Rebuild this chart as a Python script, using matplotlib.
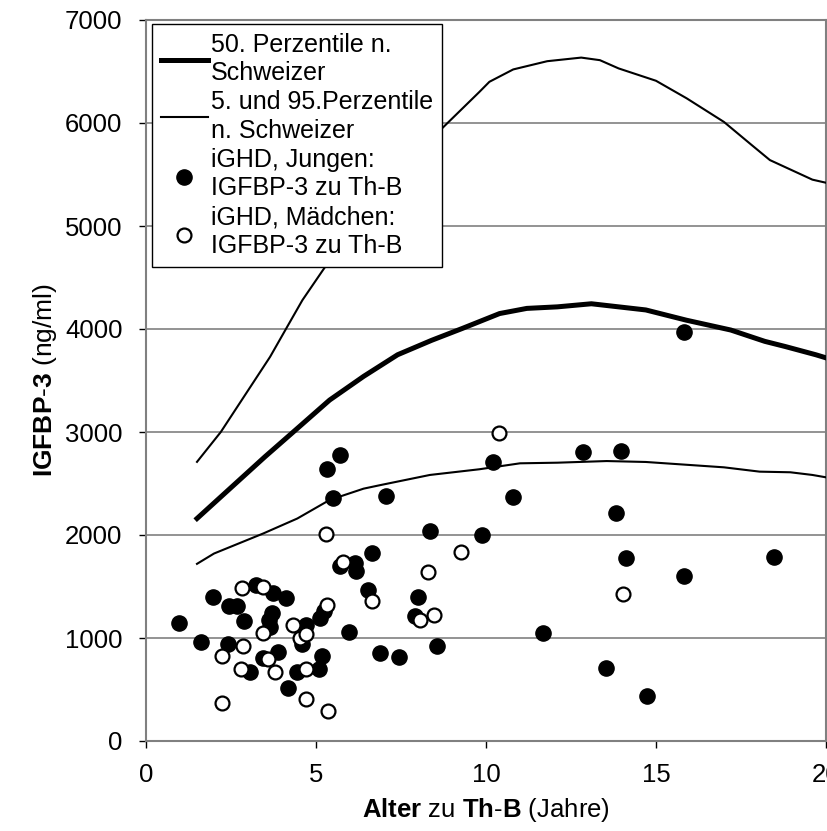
import matplotlib.pyplot as plt

# Perzentilen nach Schweizer
p50_x = [1.5, 2.3, 3.5, 4.4, 5.4, 6.4, 7.4, 8.4, 9.3, 10.4, 11.2, 12.1, 13.1, 14.7, 15.9, 17.2, 18.2, 18.8, 19.7, 20]
p50_y = [2160, 2400, 2760, 3020, 3310, 3540, 3750, 3890, 4005, 4150, 4200, 4215, 4245, 4185, 4085, 3990, 3880, 3830, 3750, 3720]

p95_x = [1.5, 2.2, 3.65, 4.15, 4.6, 5.2, 6, 7, 8, 8.9, 9.8, 10.1, 10.8, 11.8, 12.8, 13.35, 13.9, 15.0, 15.9, 17.0, 17.8, 18.35, 19.6, 20]
p95_y = [2710, 3000, 3730, 4020, 4280, 4570, 4950, 5400, 5720, 6010, 6300, 6400, 6520, 6600, 6635, 6610, 6530, 6410, 6240, 6010, 5790, 5640, 5450, 5420]

p5_x = [1.5, 2.0, 3.45, 4.45, 5.4, 6.4, 6.9, 8.35, 9.8, 11.0, 12.1, 13.55, 14.7, 17.0, 18.05, 18.95, 19.6, 20]
p5_y = [1720, 1820, 2015, 2160, 2340, 2450, 2485, 2583, 2638, 2696, 2702, 2718, 2709, 2657, 2615, 2609, 2583, 2560]

# iGHD Jungen
jungen_x = [0.97, 1.61, 1.96, 2.45, 2.68, 2.40, 2.89, 3.24, 3.43, 3.73, 3.72, 3.62, 3.66, 3.89, 4.12,
            3.06, 4.19, 4.43, 4.58, 4.70, 5.09, 5.17, 5.12, 5.24, 5.33, 5.51, 5.71, 5.71, 6.15,
            6.17, 6.54, 5.97, 6.66, 6.88, 7.05, 7.44, 7.91, 7.99, 8.35, 8.55, 9.87, 10.2, 10.8,
            11.69, 12.84, 13.52, 13.82, 13.97, 14.12, 14.73, 15.81, 15.82, 18.46]
jungen_y = [1150, 960, 1400, 1310, 1310, 945, 1165, 1510, 810, 1435, 1240, 1175, 1110, 867, 1390,
            673, 512, 673, 945, 1125, 699, 825, 1195, 1265, 2638, 2362, 2777, 1699, 1725,
            1654, 1470, 1062, 1828, 850, 2379, 812, 1217, 1395, 2039, 922, 2000, 2712, 2372,
            1052, 2803, 705, 2217, 2818, 1780, 437, 1605, 3971, 1790]

# iGHD Maedchen
maedchen_x = [2.23, 2.24, 2.79, 2.84, 2.83, 3.43, 3.45, 3.60, 3.79, 4.33, 4.53, 4.72, 4.71, 4.70,
              5.31, 5.36, 5.29, 5.80, 6.64, 8.06, 8.28, 8.48, 9.26, 10.38, 14.03]
maedchen_y = [366, 822, 699, 922, 1482, 1498, 1045, 793, 673, 1122, 997, 1040, 699, 405,
              1320, 291, 2010, 1741, 1362, 1175, 1638, 1223, 1832, 2987, 1430]

plt.rcParams['font.family'] = 'Liberation Sans'
plt.rcParams['mathtext.fontset'] = 'custom'
plt.rcParams['mathtext.rm'] = 'Liberation Sans'
plt.rcParams['mathtext.bf'] = 'Liberation Sans:bold'

fig = plt.figure(figsize=(8.27, 8.31), dpi=100)
ax = fig.add_axes([146 / 827, 90 / 831, 680 / 827, 721 / 831])

ax.plot(p50_x, p50_y, color='black', lw=3.6, label='50. Perzentile n.\nSchweizer', zorder=3)
ax.plot(p5_x, p5_y, color='black', lw=1.5, label='5. und 95.Perzentile\nn. Schweizer', zorder=3)
ax.plot(p95_x, p95_y, color='black', lw=1.5, zorder=3)
ax.scatter(jungen_x, jungen_y, s=120, c='black', edgecolors='black', linewidths=1,
           label='iGHD, Jungen:\nIGFBP-3 zu Th-B', zorder=4)
ax.scatter(maedchen_x, maedchen_y, s=100, facecolors='white', edgecolors='black', linewidths=1.6,
           label='iGHD, Mädchen:\nIGFBP-3 zu Th-B', zorder=5)

ax.set_xlim(0, 20)
ax.set_ylim(0, 7000)
ax.set_xticks(range(0, 21, 5))
ax.set_yticks(range(0, 7001, 1000))
ax.grid(axis='y', color='#808080', lw=1.2)
ax.set_axisbelow(True)
for s in ax.spines.values():
    s.set_color('#808080')
    s.set_linewidth(1.5)
ax.tick_params(direction='out', length=5, width=1, labelsize=18.5)
ax.tick_params(axis='y', pad=12)
ax.tick_params(axis='x', pad=11)

ax.set_xlabel('$\\mathbf{Alter}$ zu $\\mathbf{Th}$-$\\mathbf{B}$ (Jahre)', fontsize=18.5, labelpad=6)
ax.set_ylabel('$\\mathbf{IGFBP}$-$\\mathbf{3}$ (ng/ml)', fontsize=19, labelpad=4)

leg = ax.legend(loc='upper left', bbox_to_anchor=(0.0088, 0.9945), borderaxespad=0,
                fontsize=18, fancybox=False, edgecolor='black', framealpha=1,
                borderpad=0.35, handlelength=1.9, handletextpad=0.1, labelspacing=0.22,
                scatterpoints=1)
leg.get_frame().set_linewidth(1.0)
leg.set_zorder(10)
for t in leg.get_texts():
    t.set_linespacing(1.22)

fig.savefig('out.png', dpi=100)
